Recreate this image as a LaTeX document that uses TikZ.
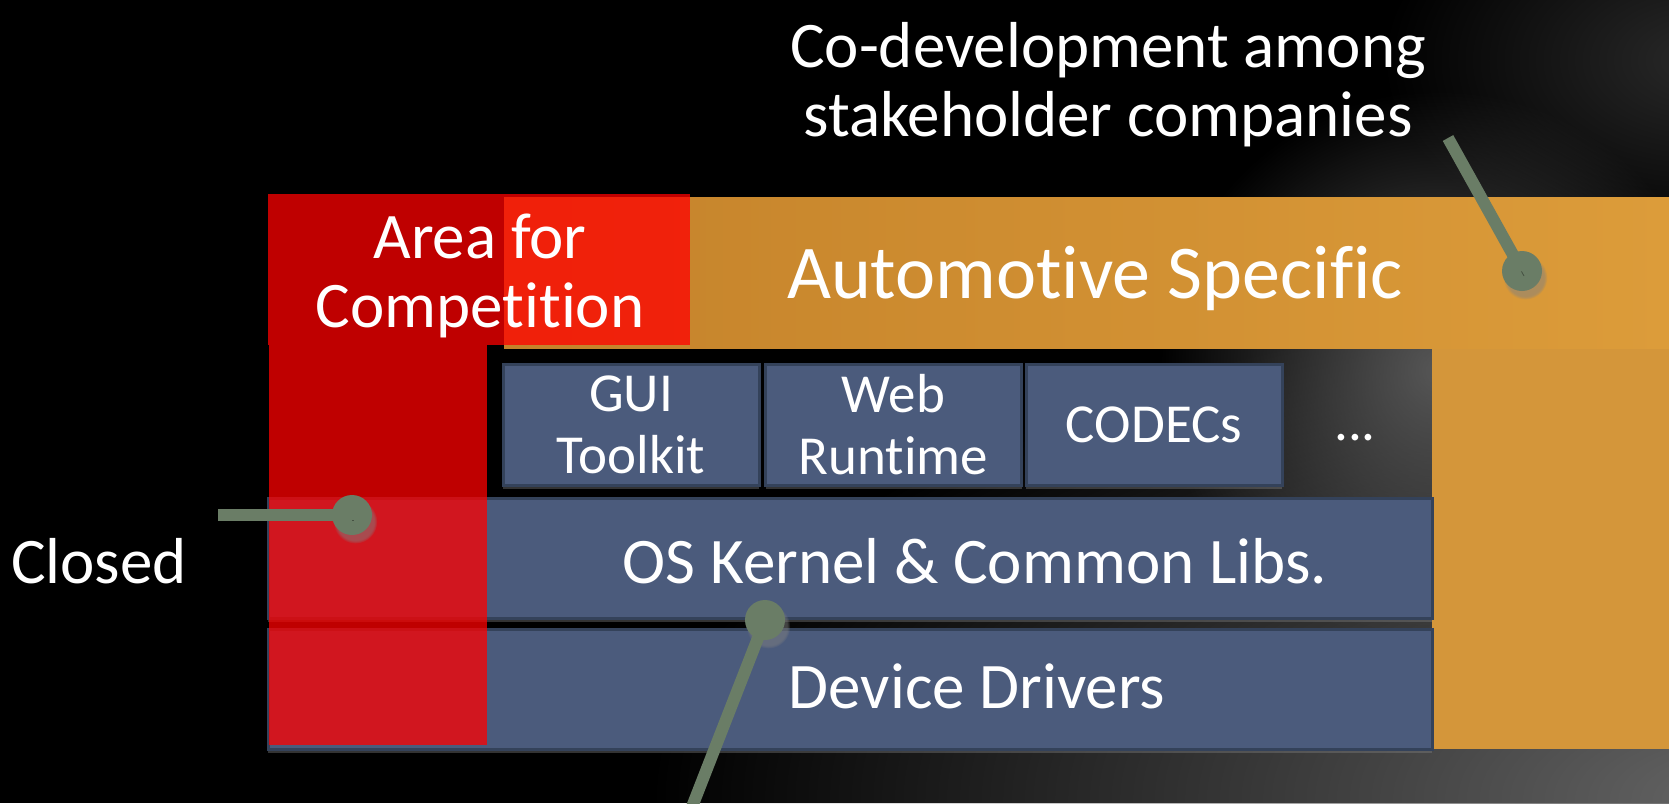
\documentclass[tikz,border=0pt]{standalone}
\usepackage{fontspec}
\setmainfont{Carlito}[Ligatures=NoCommon]
\usetikzlibrary{shadows,fadings}

\definecolor{slideblue}{HTML}{4B5B7C}
\definecolor{slideedge}{HTML}{34425A}
\definecolor{ambleft}{HTML}{C4822A}
\definecolor{ambright}{HTML}{DC9C3A}
\definecolor{amber}{HTML}{D4963A}
\definecolor{sage}{HTML}{6A7D66}

\tikzfading[name=glow fade, inner color=transparent!0, outer color=transparent!100]

\tikzset{
  every node/.style={text=white},
  layer/.style={fill=slideblue, draw=slideedge, line width=1.5pt,
    drop shadow={shadow xshift=0pt, shadow yshift=-2pt, opacity=0.4}},
  module/.style={layer, minimum width=128pt, minimum height=60.5pt,
    inner sep=0pt, align=center, font=\fontsize{27.5}{31}\selectfont},
  bigtext/.style={font=\fontsize{32.5}{34.5}\selectfont},
  closedarea/.style={fill=red, fill opacity=0.75},
  pin line/.style={draw=sage, line width=6pt,
    preaction={draw=black, draw opacity=0.35,
      transform canvas={shift={(1pt,-2.5pt)}}}},
  pin dot/.style={circle, fill=sage, minimum size=20pt, inner sep=0pt,
    circular drop shadow={shadow xshift=1.5pt, shadow yshift=-3pt, opacity=0.5}},
}

\begin{document}
\begin{tikzpicture}[x=0.5pt, y=-0.5pt]
\useasboundingbox (0,0) rectangle (1669,803);

% Background
\fill[black] (0,0) rectangle (1669,803);
\fill[black!60, path fading=glow fade] (1750,800) ellipse (1100 and 500);
\fill[black!84, path fading=glow fade] (1700,60) ellipse (320 and 200);
\fill[black!66, path fading=glow fade] (1440,370) circle (280);

% Automotive band
\shade[left color=ambleft, right color=ambright] (504,197) rectangle (1669,348);
\fill[amber] (1432,349) rectangle (1669,749);

% Platform layers
\draw[layer] (268,498) rectangle (1432,618);
\draw[layer] (268,629) rectangle (1432,749);

\node[module] (gui) at (631,424.5) {GUI\\Toolkit};
\node[module] (web) at (893.5,424.5) {Web\\Runtime};
\node[module] (codecs) at (1154,424.5) {CODECs};
\node[anchor=base, font=\fontsize{27.5}{31}\selectfont] (more) at (1355,440) {...};

% Closed area
\fill[closedarea] (268,194) rectangle (690,345);
\fill[closedarea] (269,345) rectangle (487,745);

% Labels
\node[bigtext, align=center] (compete) at (480,276) {Area for\\Competition};
\node[anchor=base, font=\fontsize{38}{40}\selectfont] (auto) at (1095,298) {Automotive Specific};
\node[bigtext, anchor=base] (kernel) at (975,583) {OS Kernel \& Common Libs.};
\node[bigtext, anchor=base] (drivers) at (977,708) {Device Drivers};
\node[bigtext, anchor=base] (closed) at (99,583) {Closed};
\node[bigtext, align=center] (codev) at (1108,84.5) {Co-development among\\stakeholder companies};

% Callouts
\coordinate (codev tail) at (1448,138);
\node[pin dot] (codev pin) at (1522,271) {};
\draw[pin line] (codev tail) -- (codev pin.center);

\coordinate (closed tail) at (218,515);
\node[pin dot] (closed pin) at (352,515) {};
\draw[pin line] (closed tail) -- (closed pin.center);

\coordinate (kernel tail) at (690,812);
\node[pin dot] (kernel pin) at (765,620) {};
\draw[pin line] (kernel tail) -- (kernel pin.center);
\end{tikzpicture}
\end{document}
